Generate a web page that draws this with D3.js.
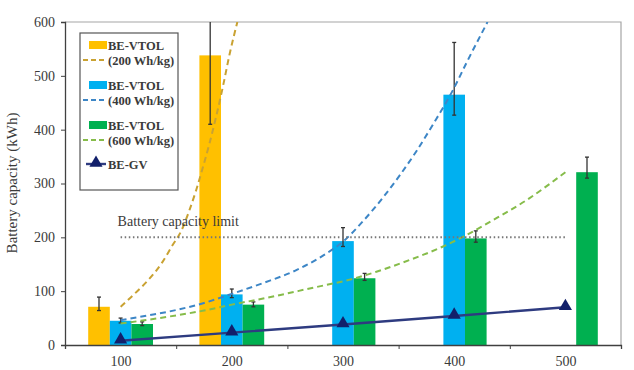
<!DOCTYPE html>
<html><head><meta charset="utf-8">
<script src="https://cdn.jsdelivr.net/npm/d3@7"></script>
<style>
body{margin:0;background:#fff;}
svg text{font-family:"Liberation Serif","DejaVu Serif",serif !important;fill:#3a3a3a;}
</style></head>
<body><svg id="c" width="634" height="370" font-family="Liberation Serif, serif"></svg>
<script>
// ---- data ----
const categories = [100, 200, 300, 400, 500];
const tickLabels = ["100", "200", "300", "400", "500"];
const yTicks = [0, 100, 200, 300, 400, 500, 600];

const vtol200 = [71, 538, null, null, null];
const vtol200Lo = [64, 410, null, null, null];
const vtol200Hi = [89, 680, null, null, null];

const vtol400 = [45, 94, 193, 465, null];
const vtol400Lo = [41, 88, 183, 427, null];
const vtol400Hi = [50, 104, 218, 562, null];

const vtol600 = [39, 75, 124, 198, 321];
const vtol600Lo = [36, 71, 120, 191, 310];
const vtol600Hi = [43, 80, 133, 212, 349];

const gv = [8, 23, 38, 54, 70];

const curve200X = [100, 113, 125, 137, 146, 155, 162, 168, 174, 180, 186, 192, 198, 205];
const curve200Y = [71, 96, 121, 152, 183, 214, 251, 288, 330, 375, 425, 480, 540, 600];
const curve400X = [100, 125, 150, 175, 200, 228, 258, 282, 300, 318, 336, 351, 366, 381, 399, 411, 430];
const curve400Y = [46, 55, 65, 78, 95, 115, 139, 166, 192, 230, 274, 315, 360, 410, 474, 524, 600];
const curve600X = [100, 125, 150, 175, 200, 230, 270, 309, 330, 360, 390, 408, 435, 465, 500];
const curve600Y = [40, 47, 55, 64, 75, 87, 105, 123, 136, 158, 183, 201, 232, 269, 321];

const limitValue = 200;
const limitFrom = 100, limitTo = 500;

const barColors = ["#FFC000", "#00B0F0", "#00B050"];
const curveColors = ["#C9A232", "#3D86C6", "#86BC4A"];
const gvColor = "#12206B";
const FONT = "Liberation Serif";

// ---- layout ----
const svg = d3.select("#c");
const L = 65, R = 621, T = 22, B = 345;
const x = d3.scaleLinear().domain([50, 550]).range([L, R]);
const y = d3.scaleLinear().domain([0, 600]).range([B, T]);
const barW = 21.6;

svg.append("defs").append("clipPath").attr("id", "pc")
  .append("rect").attr("x", L).attr("y", T).attr("width", R - L).attr("height", B - T);

// frame top/right
svg.append("path").attr("d", `M${L},${T}H${R}V${B}`).attr("fill", "none")
  .attr("stroke", "#a6a6a6").attr("stroke-width", 1.2);

const plot = svg.append("g").attr("clip-path", "url(#pc)");

// bars
const series = [
  {v: vtol200, lo: vtol200Lo, hi: vtol200Hi, off: -1},
  {v: vtol400, lo: vtol400Lo, hi: vtol400Hi, off: 0},
  {v: vtol600, lo: vtol600Lo, hi: vtol600Hi, off: 1}
];
series.forEach((s, si) => {
  const d = categories.map((c, i) => ({c, v: s.v[i]})).filter(e => e.v != null);
  plot.selectAll(null).data(d).enter().append("rect")
    .attr("x", e => x(e.c) + (s.off - 0.5) * barW)
    .attr("width", barW)
    .attr("y", e => y(e.v)).attr("height", e => y(0) - y(e.v))
    .attr("fill", barColors[si]);
});
// error bars
series.forEach((s) => {
  const d = categories.map((c, i) => ({c, v: s.v[i], lo: s.lo[i], hi: s.hi[i]})).filter(e => e.v != null);
  const g = plot.append("g").attr("stroke", "#333").attr("stroke-width", 1.3);
  d.forEach(e => {
    const cx = x(e.c) + s.off * barW;
    g.append("line").attr("x1", cx).attr("x2", cx).attr("y1", y(e.lo)).attr("y2", y(e.hi));
    g.append("line").attr("x1", cx - 2).attr("x2", cx + 2).attr("y1", y(e.lo)).attr("y2", y(e.lo));
    g.append("line").attr("x1", cx - 2).attr("x2", cx + 2).attr("y1", y(e.hi)).attr("y2", y(e.hi));
  });
});

// dashed curves
const lineGen = d3.line().x(d => x(d[0])).y(d => y(d[1])).curve(d3.curveMonotoneX);
[[curve200X, curve200Y], [curve400X, curve400Y], [curve600X, curve600Y]].forEach((cv, i) => {
  plot.append("path").attr("d", lineGen(d3.zip(cv[0], cv[1])))
    .attr("fill", "none").attr("stroke", curveColors[i]).attr("stroke-width", 2)
    .attr("stroke-dasharray", "6,4");
});

// limit line
svg.append("line").attr("x1", x(limitFrom)).attr("x2", x(limitTo))
  .attr("y1", y(limitValue)).attr("y2", y(limitValue))
  .attr("stroke", "#777").attr("stroke-width", 2).attr("stroke-dasharray", "1.5,2.6");
svg.append("text").attr("x", x(limitFrom) - 3).attr("y", y(limitValue) - 11)
  .attr("font-family", FONT).attr("font-size", 14).text("Battery capacity limit");

// GV line
const gvData = d3.zip(categories, gv);
svg.append("path").attr("d", d3.line().x(d => x(d[0])).y(d => y(d[1]))(gvData))
  .attr("fill", "none").attr("stroke", "#2E3B80").attr("stroke-width", 2.4);
const tri = d3.symbol().type(d3.symbolTriangle).size(75);
svg.selectAll(null).data(gvData).enter().append("path")
  .attr("d", tri).attr("transform", d => `translate(${x(d[0])},${y(d[1]) - 1})`)
  .attr("fill", gvColor);

// axes
const yAxis = svg.append("g").attr("transform", `translate(${L},0)`)
  .call(d3.axisLeft(y).tickValues(yTicks).tickSize(4).tickPadding(6));
yAxis.attr("font-family", FONT);
yAxis.select(".domain").attr("stroke", "#404040").attr("stroke-width", 1.3);
yAxis.selectAll(".tick line").attr("stroke", "#404040");
yAxis.selectAll("text").attr("font-size", 14).attr("font-family", FONT).attr("fill", "#3a3a3a");

const xTickPos = d3.range(50, 551, 100);
const xAxis = svg.append("g").attr("transform", `translate(0,${B})`)
  .call(d3.axisBottom(x).tickValues(xTickPos).tickSize(4).tickFormat(""));
xAxis.select(".domain").attr("stroke", "#404040").attr("stroke-width", 1.3);
xAxis.selectAll(".tick line").attr("stroke", "#404040");
const xLab = svg.append("g").attr("transform", `translate(0,${B})`)
  .call(d3.axisBottom(x).tickValues(categories).tickSize(0).tickPadding(11)
    .tickFormat((d, i) => tickLabels[i]));
xLab.attr("font-family", FONT);
xLab.select(".domain").remove();
xLab.selectAll("text").attr("font-size", 14).attr("font-family", FONT).attr("fill", "#3a3a3a");

// y title
svg.append("text").attr("transform", "translate(17,183) rotate(-90)")
  .attr("font-family", FONT).attr("text-anchor", "middle").attr("font-size", 15).text("Battery capacity (kWh)");

// legend
const lg = svg.append("g");
lg.append("rect").attr("x", 80).attr("y", 33).attr("width", 98).attr("height", 157)
  .attr("fill", "#fff").attr("stroke", "#555").attr("stroke-width", 1.2);
const legRows = [
  {name: "BE-VTOL", sub: "(200 Wh/kg)", y: 45},
  {name: "BE-VTOL", sub: "(400 Wh/kg)", y: 85},
  {name: "BE-VTOL", sub: "(600 Wh/kg)", y: 125}
];
legRows.forEach((r, i) => {
  lg.append("rect").attr("x", 89).attr("y", r.y - 4).attr("width", 18).attr("height", 8).attr("fill", barColors[i]);
  lg.append("text").attr("x", 108).attr("y", r.y + 4.5).attr("font-family", FONT).attr("font-size", 12.5).attr("font-weight", "bold").text(r.name);
  lg.append("line").attr("x1", 83).attr("x2", 107).attr("y1", r.y + 15).attr("y2", r.y + 15)
    .attr("stroke", curveColors[i]).attr("stroke-width", 2).attr("stroke-dasharray", "5,3");
  lg.append("text").attr("x", 108).attr("y", r.y + 19.5).attr("font-family", FONT).attr("font-size", 12.5).attr("font-weight", "bold").text(r.sub);
});
lg.append("line").attr("x1", 86).attr("x2", 106).attr("y1", 164).attr("y2", 164)
  .attr("stroke", "#2E3B80").attr("stroke-width", 2.4);
lg.append("path").attr("d", tri).attr("transform", "translate(96,163)").attr("fill", gvColor);
lg.append("text").attr("x", 108).attr("y", 168.5).attr("font-family", FONT).attr("font-size", 12.5).attr("font-weight", "bold").text("BE-GV");
</script></body></html>
